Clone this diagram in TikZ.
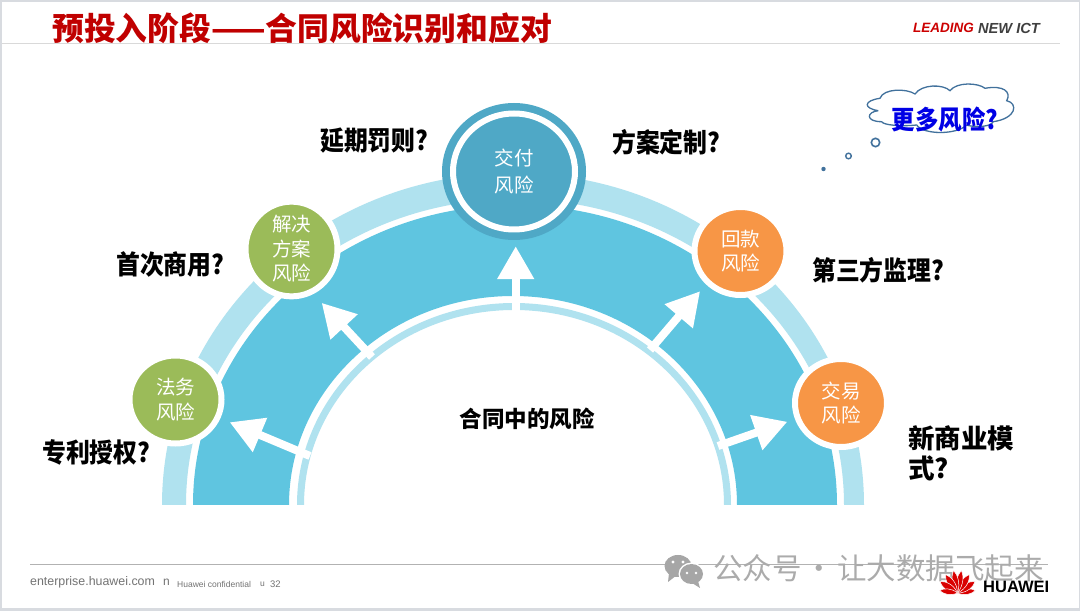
\documentclass[tikz,border=0pt]{standalone}
\usepackage{fontspec}
\setmainfont{Liberation Sans}
\newfontfamily\cjkfont{Noto Sans CJK SC}
\newfontfamily\cjknarrow[FakeStretch=0.9]{Noto Sans CJK SC}
\usepackage{xcolor}
\usetikzlibrary{arrows.meta,shapes.geometric}
\definecolor{mainblue}{HTML}{5FC5E0}
\definecolor{lightblue}{HTML}{B0E2EF}
\definecolor{deliveryblue}{HTML}{4FA8C6}
\definecolor{riskgreen}{HTML}{9BBB59}
\definecolor{riskorange}{HTML}{F79646}
\definecolor{titlered}{HTML}{C00000}
\definecolor{cloudblue}{HTML}{41719C}
\definecolor{framegray}{HTML}{D8DBE0}
\tikzset{
  riskcircle/.style={ellipse, minimum width=92pt, minimum height=88pt, inner sep=0pt,
    draw=white, line width=6pt, text=white, align=center,
    font=\fontsize{19.5}{24.5}\selectfont\cjkfont},
  question/.style={inner sep=0pt, align=left,
    font=\fontsize{26.5}{30}\selectfont\cjknarrow\bfseries},
  riskarrow/.style={white, line width=8pt,
    -{Triangle[length=33pt,width=35pt]}},
  footnote/.style={inner sep=0pt, anchor=west, text=black!55}
}

\begin{document}
\begin{tikzpicture}[x=1pt, y=1pt, >=Stealth]
  % Frame
  \fill[framegray] (0,0) rectangle (1080,611);
  \fill[white] (2,3) rectangle (1079,609);
  \useasboundingbox (0,0) rectangle (1080,611);

  % Header
  \draw[black!15] (2,568) -- (1060,568);
  \node[anchor=west, inner sep=0pt, text=titlered, font=\fontsize{31.8}{36}\selectfont\cjkfont\bfseries]
    (title) at (52,583) {预投入阶段——合同风险识别和应对};
  \node[anchor=west, inner sep=0pt, text=red!80!black, font=\fontsize{13.5}{16}\selectfont\bfseries\itshape]
    (leading) at (913,583) {LEADING};
  \node[anchor=west, inner sep=0pt, text=black!75, font=\fontsize{14.6}{16}\selectfont\bfseries\itshape]
    (newict) at (978,583) {NEW ICT};

  % Bands
  \fill[lightblue] (162,106) arc[start angle=180, end angle=0, x radius=351, y radius=332]
    -- (844,106) arc[start angle=0, end angle=180, x radius=329, y radius=306] -- cycle;
  \fill[mainblue] (193,106) arc[start angle=180, end angle=0, x radius=322, y radius=300]
    -- (737,106) arc[start angle=0, end angle=180, x radius=224, y radius=209] -- cycle;
  \fill[lightblue] (297,106) arc[start angle=180, end angle=0, x radius=217, y radius=202]
    -- (724,106) arc[start angle=0, end angle=180, x radius=210, y radius=195] -- cycle;

  % Risks on the arch
  \node[fill=deliveryblue, ellipse, minimum width=144pt, minimum height=137pt, inner sep=0pt]
    (deliveryrim) at (514,439.5) {};
  \node[riskcircle, fill=deliveryblue, minimum width=122pt, minimum height=116pt]
    (deliveryrisk) at (514,439.5) {交付\\[2.5pt]风险};
  \node[riskcircle, fill=riskgreen] (lawrisk) at (175.5,211.5) {法务\\风险};
  \node[riskcircle, fill=riskgreen] (solutionrisk) at (291.5,362) {解决\\方案\\风险};
  \node[riskcircle, fill=riskorange] (paymentrisk) at (740.5,360) {回款\\风险};
  \node[riskcircle, fill=riskorange] (traderisk) at (841,208) {交易\\风险};

  % Arrows from the inner band
  \coordinate (lawtail) at (310,155);
  \coordinate (solutiontail) at (372,254);
  \coordinate (deliverytail) at (515.7,299);
  \coordinate (paymenttail) at (650,261);
  \coordinate (tradetail) at (718,165);
  \draw[riskarrow, shorten >=10pt] (lawtail) -- (lawrisk);
  \draw[riskarrow, shorten >=12pt] (solutiontail) -- (solutionrisk.-64);
  \draw[riskarrow, shorten >=6pt] (deliverytail) -- (deliverytail |- deliveryrim.south);
  \draw[riskarrow, shorten >=9pt] (paymenttail) -- (paymentrisk.224);
  \draw[riskarrow, shorten >=8pt] (tradetail) -- (traderisk);

  % Labels
  \node[question, anchor=west] (delay) at (320,470) {延期罚则?};
  \node[question, anchor=west] (custom) at (612,469) {方案定制?};
  \node[question, anchor=west] (firstuse) at (116,347) {首次商用?};
  \node[question, anchor=west] (supervisor) at (812,341) {第三方监理?};
  \node[question, anchor=west] (patent) at (42,159) {专利授权?};
  \node[question, anchor=west, font=\fontsize{26.5}{30}\selectfont\cjkfont\bfseries]
    (newmodel) at (908,158) {新商业模\\式?};
  \node[question, font=\fontsize{22.5}{27}\selectfont\cjkfont\bfseries] (contract) at (527,192) {合同中的风险};

  % Thought cloud
  \draw[cloudblue, line width=1.3pt] (878.3,500.3)
    .. controls (863.3,502.7) and (863.3,510.3) .. (880,512.7)
    .. controls (883.3,522.7) and (906.7,522.7) .. (915,517)
    .. controls (921.7,527) and (943.3,527) .. (950,520.3)
    .. controls (956.7,529.3) and (978.3,528.3) .. (985,522.7)
    .. controls (1003.3,526) and (1011.7,519.3) .. (1006.7,510.3)
    .. controls (1018.3,507.7) and (1016.7,492.7) .. (993.3,489.3)
    .. controls (990,482.7) and (970,484.3) .. (966.7,486)
    .. controls (956.7,476) and (923.3,476) .. (916.7,486)
    .. controls (900,484.3) and (883.3,486) .. (881.7,489.3)
    .. controls (865,489.3) and (866.7,499.3) .. (878.3,500.3);
  \node[inner sep=0pt, text=blue!90!black, font=\fontsize{26}{30}\selectfont\cjknarrow\bfseries]
    (morerisk) at (945,491.5) {更多风险?};
  \draw[cloudblue, line width=1.6pt] (875.5,468.5) circle (4.2);
  \draw[cloudblue, line width=1.4pt] (848.5,455) circle (2.8);
  \fill[cloudblue] (823.5,442) circle (2.2);

  % Footer
  \draw[black!30] (30,46.5) -- (1048,46.5);
  \node[footnote, font=\fontsize{12.4}{14}\selectfont] (site) at (30,28.5) {enterprise.huawei.com};
  \node[footnote, font=\fontsize{12}{14}\selectfont] (sep) at (163,28.5) {n};
  \node[footnote, font=\fontsize{8.5}{10}\selectfont] (conf) at (177,26.5) {Huawei confidential};
  \node[footnote, font=\fontsize{8.5}{10}\selectfont] (sepb) at (260,26.5) {u};
  \node[footnote, font=\fontsize{9.5}{11}\selectfont] (page) at (270,26.5) {32};

  % Account mark
  \fill[black!35] (678,45) ellipse (13.5 and 11);
  \fill[black!35] (669,38) -- (668,29) -- (677,36) -- cycle;
  \fill[white] (691.5,37) ellipse (13 and 11.5);
  \fill[black!35] (691.5,37) ellipse (11.5 and 10);
  \fill[black!35] (698,30) -- (700,23) -- (692,28) -- cycle;
  \foreach \x/\y/\r in {673/49/1.7, 683/49/1.7, 687/38/1.4, 696/38/1.4}{
    \fill[white] (\x,\y) circle (\r);
  }
  \node[anchor=west, inner sep=0pt, text=black!33, font=\fontsize{29.5}{32}\selectfont\cjkfont]
    (account) at (713,43) {公众号\hspace{3pt}·\hspace{3pt}让大数据飞起来};

  % Logo
  \foreach \ang/\len/\wid in {-82/18/4.5, -57/21/5.5, -33/22/5.5, -10/23/5, 10/23/5, 33/22/5.5, 57/21/5.5, 82/18/4.5}{
    \fill[red!85!black, draw=white, line width=0.5pt, rotate around={\ang:(957.5,18)}]
      (957.5,18) .. controls (957.5-\wid,18+\len*0.4) and (957.5-\wid*0.6,18+\len*0.8) .. (957.5,18+\len)
      .. controls (957.5+\wid*0.6,18+\len*0.8) and (957.5+\wid,18+\len*0.4) .. (957.5,18);
  }
  \node[anchor=west, inner sep=0pt, font=\fontsize{16.5}{18}\selectfont\bfseries]
    (brand) at (983,24) {HUAWEI};
\end{tikzpicture}
\end{document}
